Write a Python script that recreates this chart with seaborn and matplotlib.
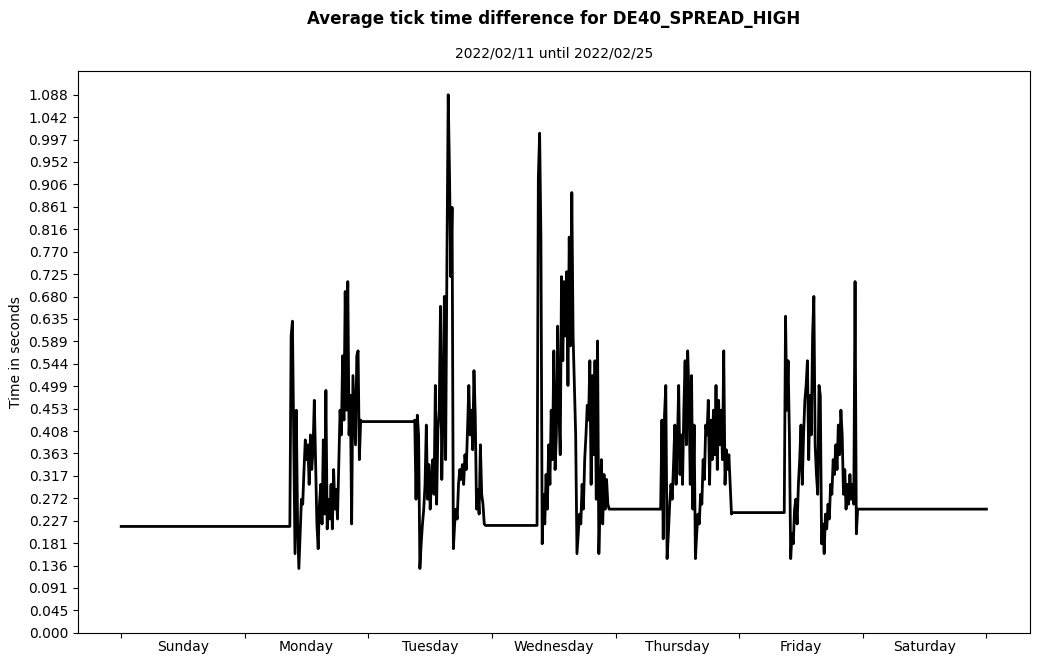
import numpy as np
import pandas as pd
import matplotlib.pyplot as plt
import seaborn as sns

# average tick time difference (seconds), 15 min buckets from 09:00 each trading day
mon_vals = [0.60, 0.63, 0.40, 0.16, 0.45, 0.22, 0.13, 0.20, 0.27, 0.26, 0.33, 0.39, 0.35, 0.38,
            0.30, 0.40, 0.33, 0.37, 0.47, 0.35, 0.22, 0.17, 0.26, 0.30, 0.22, 0.39, 0.24, 0.49,
            0.21, 0.27, 0.23, 0.30, 0.21, 0.33, 0.25, 0.29, 0.23, 0.34, 0.45, 0.40, 0.56, 0.43,
            0.69, 0.45, 0.71, 0.40, 0.48, 0.22, 0.52, 0.45, 0.38, 0.56, 0.57, 0.35, 0.43]
tue_vals = [0.43, 0.27, 0.44, 0.40, 0.13, 0.18, 0.22, 0.25, 0.30, 0.42, 0.27, 0.34, 0.25, 0.31,
            0.35, 0.28, 0.50, 0.26, 0.41, 0.45, 0.66, 0.31, 0.45, 0.68, 0.35, 0.75, 1.08775, 0.93,
            0.72, 0.86, 0.17, 0.22, 0.25, 0.23, 0.30, 0.33, 0.31, 0.34, 0.30, 0.36, 0.33, 0.41,
            0.50, 0.40, 0.45, 0.37, 0.53, 0.44, 0.25, 0.29, 0.24, 0.38, 0.28, 0.26, 0.22]
wed_vals = [0.92, 1.01, 0.80, 0.18, 0.28, 0.22, 0.32, 0.25, 0.38, 0.30, 0.45, 0.35, 0.57, 0.33,
            0.40, 0.62, 0.45, 0.36, 0.72, 0.55, 0.71, 0.60, 0.73, 0.50, 0.80, 0.58, 0.89, 0.60,
            0.50, 0.40, 0.16, 0.20, 0.24, 0.22, 0.30, 0.25, 0.35, 0.40, 0.46, 0.43, 0.55, 0.30,
            0.52, 0.36, 0.55, 0.27, 0.59, 0.16, 0.27, 0.35, 0.22, 0.32, 0.25, 0.31, 0.26]
thu_vals = [0.43, 0.19, 0.44, 0.50, 0.15, 0.20, 0.26, 0.30, 0.27, 0.34, 0.42, 0.30, 0.38, 0.50,
            0.32, 0.40, 0.30, 0.45, 0.55, 0.38, 0.57, 0.48, 0.30, 0.52, 0.25, 0.42, 0.15, 0.20,
            0.24, 0.22, 0.28, 0.26, 0.35, 0.31, 0.42, 0.40, 0.47, 0.30, 0.43, 0.35, 0.45, 0.36,
            0.50, 0.33, 0.47, 0.38, 0.45, 0.35, 0.57, 0.30, 0.37, 0.33, 0.36, 0.30, 0.24]
fri_vals = [0.64, 0.45, 0.55, 0.40, 0.15, 0.20, 0.18, 0.25, 0.27, 0.22, 0.30, 0.35, 0.42, 0.30,
            0.40, 0.47, 0.50, 0.55, 0.35, 0.48, 0.40, 0.60, 0.68, 0.38, 0.32, 0.28, 0.50, 0.48,
            0.18, 0.22, 0.16, 0.24, 0.21, 0.26, 0.23, 0.30, 0.28, 0.35, 0.32, 0.38, 0.33, 0.42,
            0.36, 0.45, 0.40, 0.28, 0.33, 0.25, 0.30, 0.26, 0.32, 0.27, 0.30, 0.26, 0.71, 0.20]

# level held outside trading hours: before Monday, then after each day
flat_levels = [0.215, 0.427, 0.217, 0.250, 0.243, 0.250]
session_start = 9.0   # hour of day
step = 0.25           # hours

days = ["Sunday", "Monday", "Tuesday", "Wednesday", "Thursday", "Friday", "Saturday"]

# build one week series (hours since Sunday 00:00)
hours = [0.0]
vals = [flat_levels[0]]
for d, day_vals in enumerate([mon_vals, tue_vals, wed_vals, thu_vals, fri_vals], start=1):
    start = 24 * d + session_start
    hours.append(start - step)
    vals.append(flat_levels[d - 1])
    for i, v in enumerate(day_vals):
        hours.append(start + i * step)
        vals.append(v)
    hours.append(start + len(day_vals) * step)
    vals.append(flat_levels[d])
hours.append(168.0)
vals.append(flat_levels[-1])
df = pd.DataFrame({"hour": hours, "value": vals})

fig, ax = plt.subplots(figsize=(10.39, 6.64), dpi=100)
fig.subplots_adjust(left=0.075, right=0.991, top=0.893, bottom=0.047)

sns.lineplot(data=df, x="hour", y="value", color="black", linewidth=2,
             estimator=None, ax=ax)
ax.set_ylim(bottom=0)

ymax = df["value"].max()
yt = np.linspace(0, ymax, 25)
ax.set_yticks(yt)
ax.set_yticklabels([f"{t:.3f}" for t in yt])

ax.set_xticks(np.arange(0, 169, 24))
ax.set_xticklabels([])
ax.set_xticks(np.arange(12, 168, 24), minor=True)
ax.set_xticklabels(days, minor=True)
ax.tick_params(axis="x", which="minor", length=0, pad=5)

ax.set_xlabel("")
ax.set_ylabel("Time in seconds")
ax.set_title("2022/02/11 until 2022/02/25", fontsize=10, pad=10)
fig.suptitle("Average tick time difference for DE40_SPREAD_HIGH", fontsize=12,
             fontweight="bold", x=0.533, y=0.985)

plt.savefig("out.png")
plt.close()
